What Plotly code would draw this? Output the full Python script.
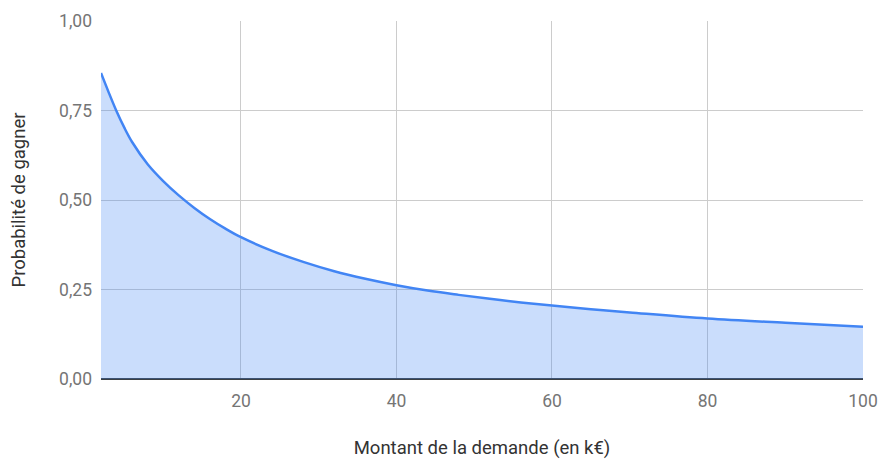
import plotly.graph_objects as go

# Amount requested (k€) and probability of winning
montant = [2, 3, 4, 5, 6, 8, 10, 12, 14, 16, 18, 20, 24, 28, 32, 36, 40,
           44, 48, 52, 56, 60, 65, 70, 80, 90, 100]
probabilite = [0.855, 0.800, 0.748, 0.702, 0.662, 0.600, 0.553, 0.513, 0.478,
               0.447, 0.420, 0.396, 0.358, 0.327, 0.301, 0.280, 0.262, 0.247,
               0.235, 0.224, 0.214, 0.205, 0.195, 0.186, 0.169, 0.157, 0.146]

x_ticks = [20, 40, 60, 80, 100]
y_ticks = [0, 0.25, 0.5, 0.75, 1.0]

fig = go.Figure(
    go.Scatter(
        x=montant,
        y=probabilite,
        mode="lines",
        line=dict(color="#4285f4", width=2.5, shape="spline", smoothing=1.0),
        fill="tozeroy",
        fillcolor="rgba(66,133,244,0.28)",
        hoverinfo="x+y",
    )
)

tick_font = dict(family="Roboto", size=17.5, color="#757575")
title_font = dict(family="Roboto", size=18.5, color="#333333")

fig.update_layout(
    width=880,
    height=459,
    margin=dict(l=101, r=17, t=21, b=80),
    paper_bgcolor="white",
    plot_bgcolor="white",
    separators=", ",
    showlegend=False,
    xaxis=dict(
        range=[2, 100],
        tickvals=x_ticks,
        tickfont=tick_font,
        showgrid=True,
        gridcolor="#cccccc",
        gridwidth=1,
        zeroline=False,
        showline=False,
        ticks="",
        ticklabelstandoff=9,
        title=dict(text="Montant de la demande (en k€)", font=title_font, standoff=32),
        automargin=False,
    ),
    yaxis=dict(
        range=[0, 1],
        tickvals=y_ticks,
        tickformat=".2f",
        tickfont=tick_font,
        showgrid=True,
        gridcolor="#cccccc",
        gridwidth=1,
        zeroline=True,
        zerolinecolor="#3c4043",
        zerolinewidth=1.5,
        showline=False,
        ticks="",
        ticklabelstandoff=8,
        title=dict(text="Probabilité de gagner", font=title_font, standoff=28),
        automargin=False,
    ),
)

fig.write_html("out.html")
